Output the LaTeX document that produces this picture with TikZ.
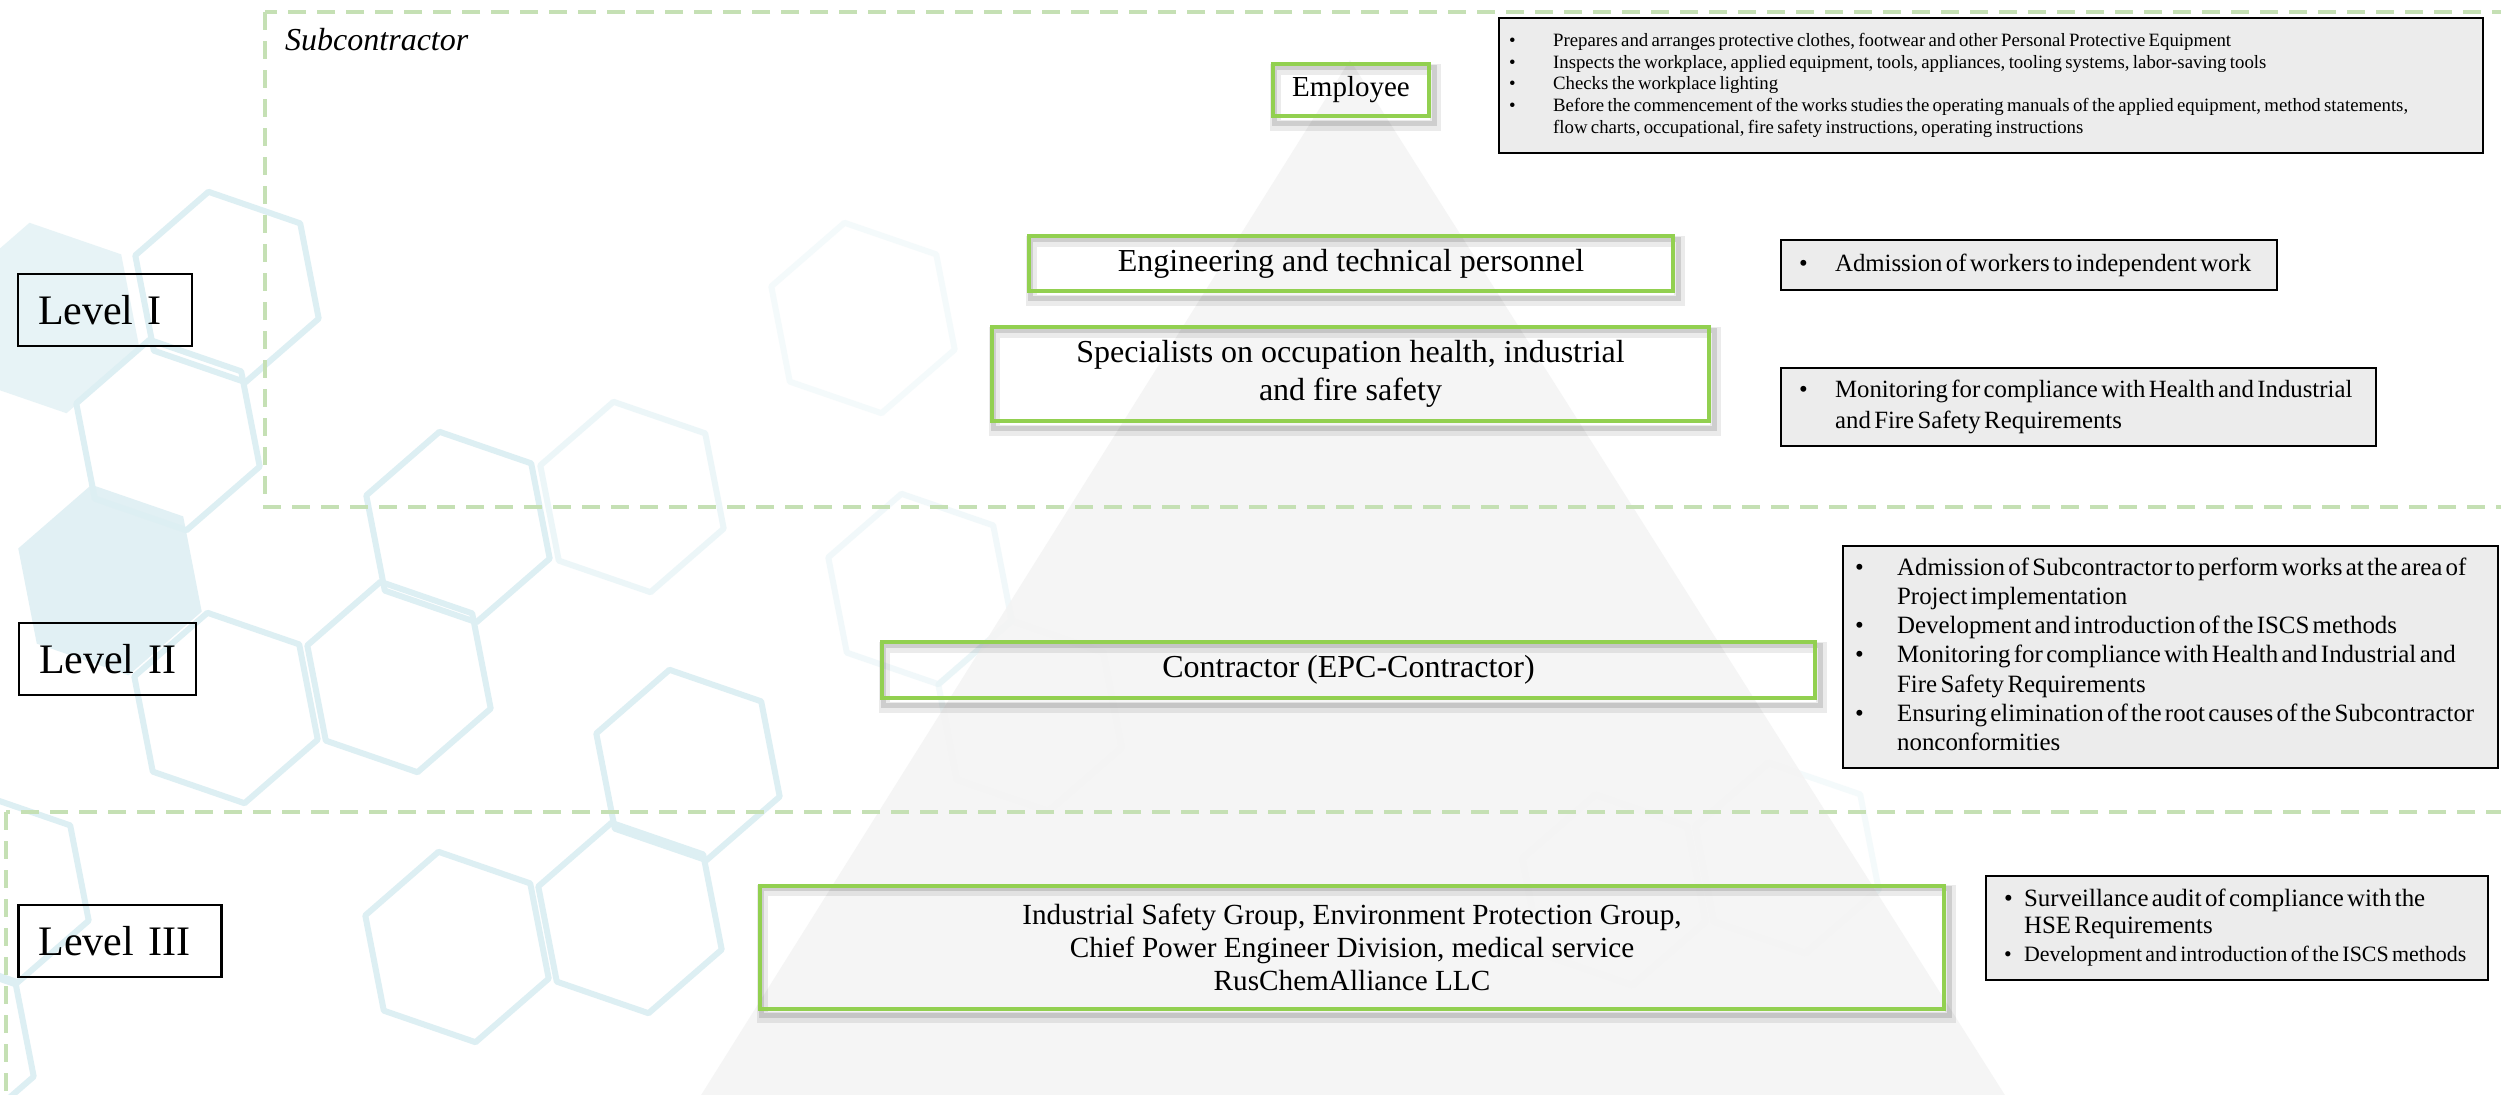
\documentclass[tikz,border=0pt]{standalone}
\usepackage{fontspec}
\setmainfont{Liberation Serif}
\usetikzlibrary{calc}
\definecolor{gborder}{RGB}{146,208,80}
\definecolor{dashgreen}{RGB}{197,224,180}
\definecolor{hexc}{RGB}{221,239,243}
\definecolor{hexfill}{RGB}{225,240,244}
\definecolor{boxgray}{RGB}{236,236,236}
\definecolor{pyrc}{RGB}{244,244,244}
\pgfdeclarelayer{deep}
\pgfdeclarelayer{shadowl}
\pgfsetlayers{deep,shadowl,main}
\newcommand{\hexat}[3]{\draw[#1,shift={(#2,#3)}] (19:97) -- (79:97) -- (139:97) -- (199:97) -- (259:97) -- (319:97) -- cycle;}
\begin{document}
\begin{tikzpicture}[x=1pt,y=-1pt,
  every node/.style={inner sep=0pt},
  gbox/.style={draw=gborder, line width=4pt, align=center, inner sep=0pt},
  lbox/.style={draw=black, line width=2.5pt, align=left, inner xsep=20pt, inner ysep=0pt, font=\fontsize{42}{48}\selectfont},
  rbox/.style={draw=black, line width=2.2pt, fill=boxgray, align=left, inner ysep=0pt, anchor=north west},
  dashbox/.style={draw=dashgreen, line width=4.5pt, dash pattern=on 18pt off 11pt},
  hexline/.style={draw=hexc, line width=6pt, line join=round},
  hexfilled/.style={fill=hexfill, draw=none},
  gshadowa/.style={draw=black, opacity=0.08, line width=11pt},
  gshadowb/.style={draw=black, opacity=0.12, line width=5pt}
]
\useasboundingbox (0,0) rectangle (2501,1095);

% ---------- background ----------
\begin{pgfonlayer}{deep}
\begin{scope}
\clip (0,0) rectangle (2501,1095);
\fill[white] (0,0) rectangle (2501,1095);
% filled hexagons
\hexat{hexfilled,opacity=0.8}{48}{318}
\hexat{hexfilled}{110}{580}
% outlined hexagons
\hexat{hexline}{227}{287}
\hexat{hexline}{168}{435}
\hexat{hexline}{399}{677}
\hexat{hexline}{226}{708}
\hexat{hexline}{458}{527}
\hexat{hexline}{688}{765}
\hexat{hexline}{457}{947}
\hexat{hexline}{630}{918}
\hexat{hexline}{-3}{889}
\hexat{hexline}{-58}{1045}
\hexat{hexline,opacity=0.55}{632}{497}
\hexat{hexline,opacity=0.3}{863}{318}
\hexat{hexline,opacity=0.4}{920}{589}
\hexat{hexline,opacity=0.3}{1030}{716}
\hexat{hexline,opacity=0.3}{1614}{890}
\hexat{hexline,opacity=0.3}{1787}{858}
% pyramid
\fill[pyrc, opacity=0.9] (1350,60) -- (2008,1100) -- (698,1100) -- cycle;
% dashed regions
\draw[dashbox] (265,12) rectangle (2560,507);
\draw[dashbox] (6,812) rectangle (2560,1160);
\end{scope}
\end{pgfonlayer}

% ---------- labels ----------
\node[anchor=base west, font=\fontsize{32}{36}\selectfont\itshape] (sub) at (285,50) {Subcontractor};

\node[lbox, minimum width=174, minimum height=72, text width=134] (lv1) at (105,310) {\mbox{Level I}};
\node[lbox, minimum width=177, minimum height=72, text width=137] (lv2) at (107.5,659) {\mbox{Level II}};
\node[lbox, minimum width=203, minimum height=72, text width=163] (lv3) at (120,941) {\mbox{Level III}};

% ---------- green boxes ----------
\node[gbox, minimum width=156, minimum height=52, font=\fontsize{29}{33}\selectfont] (emp) at (1351,90) {Employee};
\node[gbox, minimum width=644, minimum height=55, font=\fontsize{32}{37}\selectfont] (eng) at (1351,263.5) {Engineering and technical personnel};
\node[gbox, minimum width=717, minimum height=94, font=\fontsize{32}{37.5}\selectfont] (spec) at (1350.5,374) {Specialists on occupation health, industrial\\and fire safety};
\node[gbox, minimum width=933, minimum height=56, font=\fontsize{32}{37}\selectfont] (contr) at (1348.5,670) {Contractor (EPC-Contractor)};
\node[gbox, minimum width=1184, minimum height=123, font=\fontsize{29.2}{33}\selectfont] (ind) at (1352,947) {Industrial Safety Group, Environment Protection Group,\\Chief Power Engineer Division, medical service\\RusChemAlliance LLC};

\begin{pgfonlayer}{shadowl}
\foreach \n in {emp,eng,spec,contr,ind}{
  \draw[gshadowa] ($(\n.north west)+(4,7)$) rectangle ($(\n.south east)+(4,7)$);
  \draw[gshadowb] ($(\n.north west)+(3,5)$) rectangle ($(\n.south east)+(3,5)$);
}
\end{pgfonlayer}

% ---------- description boxes ----------
\node[rbox, minimum width=984, minimum height=135, text width=964, inner xsep=10pt] (r1) at (1498,17) {\fontsize{18.8}{21.8}\selectfont
\begin{tabular}{@{}p{44pt}@{}l@{}}
\textbullet & Prepares and arranges protective clothes, footwear and other Personal Protective Equipment\\
\textbullet & Inspects the workplace, applied equipment, tools, appliances, tooling systems, labor-saving tools\\
\textbullet & Checks the workplace lighting\\
\textbullet & Before the commencement of the works studies the operating manuals of the applied equipment, method statements,\\
 & flow charts, occupational, fire safety instructions, operating instructions
\end{tabular}};

\node[rbox, minimum width=496, minimum height=50, text width=460, inner xsep=18pt] (r2) at (1780,239) {\fontsize{24.8}{30}\selectfont
\begin{tabular}{@{}p{36pt}@{}l@{}}
\textbullet & Admission of workers to independent work
\end{tabular}};

\node[rbox, minimum width=595, minimum height=78, text width=559, inner xsep=18pt] (r3) at (1780,367) {\fontsize{24.8}{30.5}\selectfont
\begin{tabular}{@{}p{36pt}@{}l@{}}
\textbullet & Monitoring for compliance with Health and Industrial\\
 & and Fire Safety Requirements
\end{tabular}};

\node[rbox, minimum width=655, minimum height=222, text width=631, inner xsep=12pt] (r4) at (1842,545) {\fontsize{24.9}{29.3}\selectfont
\begin{tabular}{@{}p{42pt}@{}l@{}}
\textbullet & Admission of Subcontractor to perform works at the area of\\
 & Project implementation\\
\textbullet & Development and introduction of the ISCS methods\\
\textbullet & Monitoring for compliance with Health and Industrial and\\
 & Fire Safety Requirements\\
\textbullet & Ensuring elimination of the root causes of the Subcontractor\\
 & nonconformities
\end{tabular}};

\node[rbox, minimum width=502, minimum height=104, text width=466, inner xsep=18pt] (r5) at (1985,875) {\fontsize{24.9}{27.5}\selectfont
\begin{tabular}{@{}p{20pt}@{}l@{}}
\textbullet & Surveillance audit of compliance with the\\
 & HSE Requirements\\
{\fontsize{21.9}{27.5}\selectfont\textbullet} & {\fontsize{21.9}{27.5}\selectfont Development and introduction of the ISCS methods}
\end{tabular}};
\end{tikzpicture}
\end{document}
